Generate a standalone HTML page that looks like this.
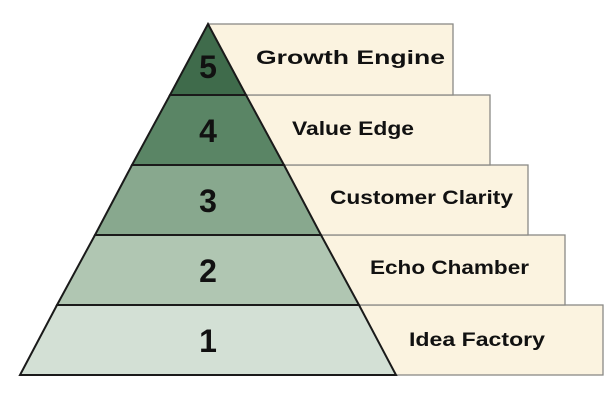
<!DOCTYPE html>
<html><head><style>html,body{margin:0;padding:0;background:#fff;}svg{display:block}</style></head>
<body>
<svg width="614" height="403" viewBox="0 0 614 403" xmlns="http://www.w3.org/2000/svg">
<g fill="#fbf3e0" stroke="#8a8a86" stroke-width="1.3">
<rect x="240" y="305" width="363" height="70"/>
<rect x="240" y="235" width="325" height="70"/>
<rect x="240" y="165" width="288" height="70"/>
<rect x="230" y="95" width="260" height="70"/>
<rect x="209" y="24" width="244" height="71"/>
</g>
<g stroke="#1a1a1a" stroke-width="2">
<polygon points="20,375 396,375 359,305 57,305" fill="#d3e0d5"/>
<polygon points="57,305 359,305 321,235 95,235" fill="#b0c6b2"/>
<polygon points="95,235 321,235 284,165 132,165" fill="#88a88e"/>
<polygon points="132,165 284,165 246,95 170,95" fill="#5a8565"/>
<polygon points="170,95 246,95 208,24" fill="#3f6b4b"/>
</g>
<g font-family="Liberation Sans, sans-serif" font-weight="bold" fill="#111">
<g font-size="32" text-anchor="middle">
<text x="208" y="78">5</text>
<text x="208" y="142">4</text>
<text x="208" y="212">3</text>
<text x="208" y="282">2</text>
<text x="208" y="352">1</text>
</g>
<g font-size="19">
<text x="256" y="64" textLength="189" lengthAdjust="spacingAndGlyphs">Growth Engine</text>
<text x="292" y="135" textLength="122" lengthAdjust="spacingAndGlyphs">Value Edge</text>
<text x="330" y="204" textLength="183" lengthAdjust="spacingAndGlyphs">Customer Clarity</text>
<text x="370" y="274" textLength="159" lengthAdjust="spacingAndGlyphs">Echo Chamber</text>
<text x="409" y="346" textLength="136" lengthAdjust="spacingAndGlyphs">Idea Factory</text>
</g>
</g>
</svg>
</body></html>
